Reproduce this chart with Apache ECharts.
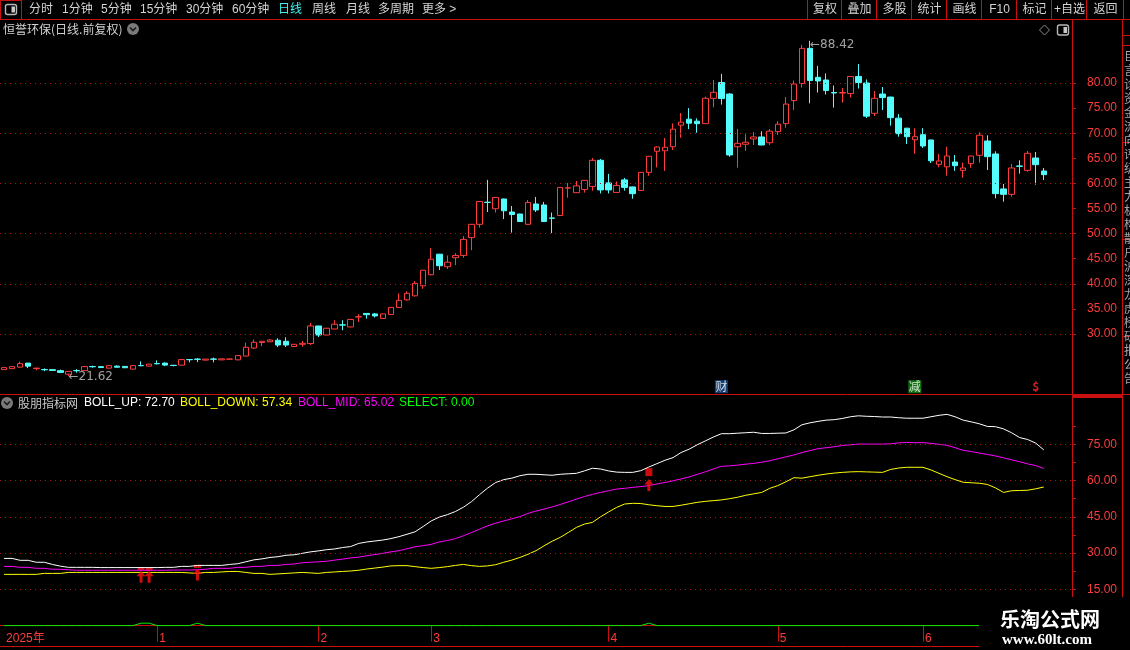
<!DOCTYPE html>
<html>
<head>
<meta charset="utf-8">
<script src="https://cdn.jsdelivr.net/npm/echarts@6/dist/echarts.min.js"></script>
<style>
html,body{margin:0;padding:0;background:#000;overflow:hidden}
#chart{width:1130px;height:650px}
</style>
</head>
<body>
<div id="chart"></div>
<script>
// ---------- DATA ----------
// [open, close, low, high]
const ohlc = [
[22.9,23.3,22.85,23.35],[23.1,23.5,23.05,23.55],[23.4,24.1,23.3,24.5],[24.2,23.6,23.2,24.25],[23.1,23.2,22.8,23.25],
[22.92,22.88,22.6,23.15],[22.9,22.75,22.7,22.95],[22.7,22.35,22.3,22.9],[22.0,22.55,21.62,22.6],[22.72,22.68,22.3,23.0],
[22.7,23.5,22.65,23.55],[23.52,23.47,23.3,23.7],[23.5,23.32,23.3,23.55],[23.2,23.7,23.15,23.75],[23.6,23.38,23.35,23.75],
[23.55,23.28,23.25,23.6],[23.0,23.7,22.95,23.75],[23.72,23.68,23.6,24.55],[23.6,24.0,23.55,24.05],[24.12,24.07,23.95,24.75],
[24.2,23.8,23.6,24.35],[23.77,23.72,23.55,23.8],[23.8,24.9,23.7,25.0],[24.92,24.87,24.35,24.95],[25.0,24.95,24.4,25.2],
[24.8,25.0,24.75,25.05],[25.02,24.97,24.35,25.3],[24.85,25.05,24.8,25.1],[24.98,25.02,24.95,25.05],[24.85,25.7,24.8,25.75],
[25.6,27.35,25.55,28.3],[27.2,28.35,27.0,28.9],[28.3,28.55,27.6,28.6],[28.45,28.8,28.4,29.0],[28.75,27.8,27.4,29.15],
[28.55,27.8,27.4,29.35],[27.5,27.95,27.45,28.0],[27.95,28.15,27.5,28.6],[28.1,31.6,27.8,32.2],[31.6,29.8,29.4,31.65],
[29.8,31.15,29.75,31.2],[31.0,31.95,30.95,32.75],[31.82,31.78,30.75,32.75],[31.4,32.9,31.35,32.95],[33.4,33.45,32.4,33.95],
[34.1,33.85,33.05,34.15],[34.0,33.6,33.3,34.2],[33.1,34.0,33.05,34.05],[33.9,35.3,33.85,35.35],[35.3,36.7,35.25,38.1],
[36.8,38.1,36.65,38.5],[37.6,40.1,37.5,40.55],[39.6,42.7,39.0,42.75],[41.8,44.9,41.7,47.1],[45.9,43.6,42.75,45.95],
[43.4,44.3,42.95,45.65],[45.2,45.65,43.7,46.1],[45.65,48.85,45.2,49.5],[49.2,51.85,46.7,51.9],[51.85,56.4,51.2,56.45],
[56.25,56.2,54.3,60.7],[54.95,57.2,54.2,57.3],[56.9,54.55,52.9,56.95],[54.3,53.8,50.2,55.5],[53.9,52.4,52.35,53.95],
[51.85,56.2,51.8,56.7],[55.9,54.7,54.3,57.3],[55.7,52.4,52.35,56.3],[53.12,53.05,50.1,54.2],[53.6,59.2,53.55,59.25],
[59.08,59.12,57.15,60.1],[58.15,59.5,58.1,60.5],[58.8,60.6,58.15,60.65],[59.4,64.6,58.55,65.05],[64.6,58.7,58.0,64.85],
[60.1,58.7,58.0,61.9],[58.2,59.6,58.15,60.4],[60.7,59.2,58.55,61.1],[59.3,57.95,56.95,59.35],[58.6,62.2,58.55,62.25],
[62.2,65.4,61.5,65.45],[66.4,67.25,63.2,67.4],[66.5,67.2,62.5,69.05],[67.3,70.8,66.65,71.96],[71.6,72.2,69.1,74.0],
[72.8,72.0,70.8,75.0],[72.4,71.9,70.1,72.95],[71.9,76.95,71.85,77.3],[76.95,78.15,75.15,80.6],[80.1,76.9,75.7,81.8],
[77.8,65.66,65.3,78.0],[67.3,67.98,63.14,70.84],[67.8,68.2,66.5,69.8],[68.85,69.25,67.65,70.24],[69.25,67.65,67.6,70.4],
[68.1,70.4,67.65,70.84],[70.3,71.8,69.65,72.4],[71.9,75.8,71.1,77.2],[76.5,79.8,74.6,80.5],[79.9,86.9,79.1,87.6],
[86.9,80.5,75.95,88.42],[81.13,80.4,78.1,83.4],[80.6,78.5,77.7,81.9],[78.1,78.0,75.1,79.5],[78.0,78.1,76.1,79.0],
[77.9,81.3,77.1,81.35],[81.3,80.1,78.9,83.8],[80.0,73.4,73.0,80.7],[73.96,76.95,73.4,78.4],[77.8,77.1,74.6,79.2],
[77.2,73.1,71.5,77.25],[73.0,69.9,69.3,73.8],[71.0,69.3,67.85,71.05],[68.7,69.3,65.9,71.0],[69.7,67.45,67.05,71.0],
[68.65,64.5,64.06,68.7],[63.8,64.47,63.2,65.86],[63.3,65.46,61.55,67.3],[64.26,63.53,62.5,65.66],[62.6,63.07,61.15,64.13],
[63.93,65.46,63.13,65.5],[65.6,69.6,64.13,70.17],[68.45,65.33,62.67,69.58],[65.86,57.96,57.03,66.4],[58.9,57.82,56.36,59.88],
[57.82,63.07,57.36,63.87],[63.47,63.4,61.94,64.6],[62.6,66.0,62.34,66.46],[65.06,63.73,59.75,66.26],[62.47,61.74,60.68,63.07]
];
const padCount = 3; // empty slots on the right of the last bar
const categories = Array.from({length: ohlc.length + padCount}, (_, i) => String(i));

const bollUp = [
27.8,27.8,27.0,27.0,26.2,26.2,25.3,24.6,24.1,24.1,24.1,24.1,24.0,24.0,24.0,24.0,24.0,24.0,24.0,24.0,
24.1,24.1,24.5,24.5,24.9,24.9,24.9,24.9,25.3,25.6,26.4,27.2,27.6,28.2,28.5,29.1,29.3,29.9,30.5,30.9,
31.4,31.7,32.3,32.7,34.0,
34.6,35.0,35.4,36.0,36.8,37.8,38.8,41.0,43.3,44.9,45.9,47.2,49.0,51.3,54.2,56.9,59.2,60.4,61.0,62.0,
62.6,62.6,62.4,62.2,62.6,62.8,63.0,64.0,65.1,64.8,64.0,63.5,63.4,63.4,64.1,65.6,67.0,68.4,69.5,71.6,
73.0,74.8,76.4,
78.0,79.4,79.4,79.6,79.8,80.0,79.5,79.5,79.6,79.7,81.0,83.1,83.9,84.5,85.0,85.2,85.7,86.4,86.8,86.6,
86.5,86.3,86.3,86.0,85.8,85.8,85.8,86.4,87.0,87.4,86.4,85.0,84.3,83.5,82.4,82.3,81.4,79.8,77.8,77.0,
75.5,72.70
];
const bollMid = [
24.5,24.5,24.1,24.1,23.7,23.7,23.3,23.3,23.1,22.9,22.9,22.9,22.9,22.9,22.9,22.9,22.9,22.9,22.9,22.9,
22.9,23.0,23.0,23.0,23.1,23.3,23.7,23.7,23.7,24.1,24.1,24.5,24.5,24.9,24.9,25.3,25.5,26.0,26.2,26.4,
26.6,27.1,27.5,28.0,28.3,
28.9,29.4,29.9,30.5,31.0,31.8,32.6,33.1,33.6,34.6,35.2,36.0,37.2,38.5,39.9,41.3,42.4,43.3,44.2,45.1,
46.4,47.4,48.2,49.1,50.1,51.2,52.3,53.4,54.3,55.1,55.8,56.5,56.8,57.2,57.5,57.9,58.6,59.2,59.9,60.7,
61.5,62.6,63.6,
64.8,65.9,66.1,66.4,66.8,67.1,67.6,68.2,69.0,69.8,70.6,71.6,72.4,73.2,73.6,74.0,74.5,74.8,75.1,75.1,
75.1,75.1,75.2,75.6,75.8,75.7,75.7,75.4,75.0,74.6,73.6,72.5,72.0,71.4,70.8,70.2,69.4,68.6,67.8,66.9,
66.2,65.02
];
const bollDown = [
21.2,21.2,21.2,21.2,21.2,21.6,21.6,21.6,22.0,22.0,22.0,22.0,22.0,22.0,22.0,22.0,22.0,22.0,22.0,22.0,
22.0,22.0,22.0,21.8,21.6,22.0,22.0,22.2,22.4,22.4,22.0,21.6,21.6,21.2,21.4,21.6,21.8,22.0,21.8,21.6,
22.0,22.2,22.4,22.6,22.9,
23.4,23.8,24.2,24.7,24.8,24.8,24.4,24.0,23.7,24.0,24.4,24.9,25.3,24.8,24.5,24.7,25.2,26.2,27.1,28.2,
29.5,31.0,33.0,34.9,36.5,38.5,40.6,42.0,42.7,45.0,47.0,48.9,50.3,50.6,50.5,50.0,49.6,49.3,49.3,49.8,
50.4,51.0,51.4,
51.7,52.0,52.5,53.1,53.9,54.5,55.1,56.8,57.9,59.5,61.2,61.0,61.6,62.2,62.7,63.1,63.4,63.6,63.7,63.6,
63.5,63.4,64.6,65.2,65.5,65.5,65.5,64.4,63.0,61.6,60.4,59.3,59.1,58.9,58.4,57.0,55.1,55.8,55.9,56.0,
56.6,57.34
];
const selectSignal = [
0,0,0,0,0,0,0,0,0,0,0,0,0,0,0,0,0,1,1,0,0,0,0,0,1,0,0,0,0,0,
0,0,0,0,0,0,0,0,0,0,0,0,0,0,0,0,0,0,0,0,0,0,0,0,0,0,0,0,0,0,
0,0,0,0,0,0,0,0,0,0,0,0,0,0,0,0,0,0,0,0,1,0,0,0,0,0,0,0,0,0,
0,0,0,0,0,0,0,0,0,0,0,0,0,0,0,0,0,0,0,0,0,0,0,0,0,0,0,0,0,0,
0,0,0,0,0,0,0,0,0,0
];
const arrowIdx = [17, 18, 24, 80];
const arrowValue = [20.2, 20.2, 21.1, 58.2];
const flagIdx = [17, 18, 24, 80];
const flagValue = [23.6, 23.4, 24.5, 63.5];
const extremeIdx = [8, 100];
const extremeValue = [21.62, 88.42];
const eventIdx = [89, 113, 128];
const eventText = ['财', '减', '$'];
const eventValue = 19.5;
const priceTicks = [30, 35, 40, 45, 50, 55, 60, 65, 70, 75, 80];
const priceGridLines = [30, 40, 50, 60, 70, 80];
const indTicks = [15, 30, 45, 60, 75];
const indMinorTicks = [15, 22.5, 30, 37.5, 45, 52.5, 60, 67.5, 75, 82.5];
const monthTickIdx = [19, 39, 53, 75, 96, 114];
const monthTickText = ['1', '2', '3', '4', '5', '6'];
const yearLabel = '2025年';
const menuItems = ['分时', '1分钟', '5分钟', '15分钟', '30分钟', '60分钟', '日线', '周线', '月线', '多周期', '更多 >'];
const rightButtons = ['复权', '叠加', '多股', '统计', '画线', 'F10', '标记', '+自选', '返回'];
const stockTitle = '恒誉环保(日线.前复权)';
const indicatorName = '股朋指标网';

// ---------- STYLE ----------
const RED = '#c81010';
const AXIS_RED = '#ff3c3c';
const UP_RED = '#ff3c3c';
const CYAN = '#54fcfc';
const GRID_RED = '#a81818';
const LATIN = '"Liberation Sans","Noto Sans CJK SC",sans-serif';
const CJK = '"Noto Sans CJK SC","Liberation Sans",sans-serif';

const chart = echarts.init(document.getElementById('chart'), null, {renderer: 'canvas'});

function T(text, x, y, fill, font, align) {
  return {type: 'text', x: x, y: y, silent: true, z: 50,
    style: {text: text, fill: fill, font: font, textAlign: align || 'left', textVerticalAlign: 'middle'}};
}
function L(x1, y1, x2, y2, stroke, w) {
  return {type: 'line', silent: true, z: 50, shape: {x1: x1, y1: y1, x2: x2, y2: y2},
    style: {stroke: stroke, lineWidth: w || 1}};
}
function circleIcon(cx, cy) {
  return [
    {type: 'circle', silent: true, z: 50, shape: {cx: cx, cy: cy, r: 6}, style: {fill: '#7a7a7a'}},
    {type: 'polyline', silent: true, z: 51, shape: {points: [[cx - 3, cy - 1.5], [cx, cy + 1.5], [cx + 3, cy - 1.5]]},
      style: {stroke: '#1a1a1a', lineWidth: 1.6, fill: null}}
  ];
}
function toggleIcon(x, y) {
  return [
    {type: 'rect', silent: true, z: 50, shape: {x: x + 0.5, y: y + 0.5, width: 11, height: 10, r: 2},
      style: {stroke: '#b8b8b8', lineWidth: 1.4, fill: null}},
    {type: 'rect', silent: true, z: 50, shape: {x: x + 6.5, y: y + 2.5, width: 3.5, height: 6}, style: {fill: '#c8c8c8'}}
  ];
}

const g = [];
// toolbar
g.push(L(0, 19.5, 1130, 19.5, RED));
g.push({type: 'rect', silent: true, z: 50, shape: {x: 0.5, y: 0.5, width: 21, height: 19}, style: {stroke: RED, fill: null}});
g.push(...toggleIcon(5, 4));
const menuX = [29, 62, 101, 140, 186, 232, 278, 312, 346, 378, 422];
menuItems.forEach((m, i) => g.push(T(m, menuX[i], 10, m === '日线' ? '#3ef2f2' : '#d4d4d4', '12px ' + LATIN)));
const sepX = [807, 841, 876, 911, 946, 981, 1016, 1051, 1086, 1123];
sepX.forEach(x => g.push(L(x + 0.5, 0, x + 0.5, 19.5, RED)));
rightButtons.forEach((b, i) => g.push(T(b, (sepX[i] + sepX[i + 1]) / 2 + 1, 10, '#d4d4d4', '12px ' + LATIN, 'center')));
// title row
g.push(T(stockTitle, 3, 29, '#d0d0d0', '12px ' + CJK));
g.push(...circleIcon(133, 29));
g.push({type: 'polygon', silent: true, z: 50, shape: {points: [[1044.5, 25], [1049.5, 30], [1044.5, 35], [1039.5, 30]]},
  style: {stroke: '#8c8c8c', fill: null, lineWidth: 1}});
g.push(...toggleIcon(1057, 24.5));
// frame lines
g.push(L(1072.5, 20, 1072.5, 597, RED));
g.push(L(1122.5, 20, 1122.5, 597, RED));
[35, 45, 142, 239, 336].forEach(y => g.push(L(1122, y + 0.5, 1130, y + 0.5, RED)));
const stripChars = ['巨', '言', '诊', '资', '金', '流', '向', '评', '级', '主', '力', '机', '构', '散', '户', '沪', '深', '龙', '虎', '榜', '研', '报', '公', '告'];
stripChars.forEach((c, i) => g.push(T(c, 1124, 56 + i * 14, '#a8a8a8', '12px ' + CJK)));
g.push(L(0, 394.5, 1130, 394.5, RED));
g.push({type: 'rect', silent: true, z: 50, shape: {x: 1072, y: 395, width: 50, height: 3}, style: {fill: RED}});
// indicator title
g.push(...circleIcon(7, 403));
g.push(T(indicatorName, 18, 403, '#c8c8c8', '12px ' + CJK));
g.push(T('BOLL_UP: ' + bollUp[bollUp.length - 1].toFixed(2), 84, 403, '#ffffff', '12px ' + LATIN));
g.push(T('BOLL_DOWN: ' + bollDown[bollDown.length - 1].toFixed(2), 180, 403, '#ffff00', '12px ' + LATIN));
g.push(T('BOLL_MID: ' + bollMid[bollMid.length - 1].toFixed(2), 298, 403, '#ff00ff', '12px ' + LATIN));
g.push(T('SELECT: ' + selectSignal[selectSignal.length - 1].toFixed(2), 399, 403, '#00ff00', '12px ' + LATIN));
// bottom strip
g.push(L(0, 646.5, 1130, 646.5, RED));
// watermark
g.push({type: 'rect', silent: true, z: 100, shape: {x: 979, y: 597, width: 151, height: 53}, style: {fill: '#000'}});
g.push(Object.assign(T('乐淘公式网', 1050, 619, '#ffffff', 'bold 20px ' + CJK, 'center'), {z: 101}));
g.push(Object.assign(T('www.60lt.com', 1047, 640, '#ffffff', 'bold 15px "Liberation Serif",serif', 'center'), {z: 101}));

const dotted = {type: [1, 4], color: GRID_RED, width: 1};

const option = {
  backgroundColor: '#000',
  animation: false,
  grid: [
    {left: 0, right: 58, top: 32.8, height: 351.4, containLabel: false, outerBoundsMode: 'none'},
    {left: 0, right: 58, top: 408.07, height: 217.53, containLabel: false, outerBoundsMode: 'none'}
  ],
  xAxis: [
    {type: 'category', gridIndex: 0, data: categories, boundaryGap: true, show: false},
    {type: 'category', gridIndex: 1, data: categories, boundaryGap: true, offset: 4.4,
      axisLine: {show: true, lineStyle: {color: RED, width: 1}},
      axisTick: {show: true, alignWithLabel: true, length: 16, inside: false,
        interval: (i) => monthTickIdx.indexOf(i) >= 0, lineStyle: {color: RED}},
      axisLabel: {show: true, color: AXIS_RED, fontSize: 12, fontFamily: LATIN, align: 'left', margin: 3,
        padding: [0, 0, 0, 2],
        interval: (i) => i === 0 || monthTickIdx.indexOf(i) >= 0,
        formatter: (v, i) => (Number(v) === 0 ? yearLabel : monthTickText[monthTickIdx.indexOf(Number(v))] || '')},
      splitLine: {show: false}}
  ],
  yAxis: [
    {type: 'value', gridIndex: 0, position: 'right', min: 20, max: 90, interval: 5, scale: false,
      axisLine: {show: false},
      axisTick: {show: true, inside: false, length: 4, customValues: priceTicks, lineStyle: {color: RED}},
      axisLabel: {show: true, customValues: priceTicks, margin: 15, color: AXIS_RED, fontSize: 12, fontFamily: LATIN,
        formatter: (v) => (v >= 30 && v <= 80 ? Number(v).toFixed(2) : '')},
      splitLine: {show: false}},
    {type: 'value', gridIndex: 1, position: 'right', min: 0, max: 90, interval: 15,
      axisLine: {show: false},
      axisTick: {show: true, inside: false, length: 4, customValues: indMinorTicks, lineStyle: {color: RED}},
      axisLabel: {show: true, customValues: indTicks, margin: 15, color: AXIS_RED, fontSize: 12, fontFamily: LATIN,
        formatter: (v) => (v >= 15 && v <= 75 ? Number(v).toFixed(2) : '')},
      splitLine: {show: false}}
  ],
  series: [
    {
      name: 'K', type: 'candlestick', xAxisIndex: 0, yAxisIndex: 0, data: ohlc, barWidth: 6,
      itemStyle: {color: '#000', color0: CYAN, borderColor: UP_RED, borderColor0: CYAN, borderWidth: 1},
      emphasis: {disabled: true},
      markLine: {silent: true, symbol: ['none', 'none'], label: {show: false}, lineStyle: dotted,
        emphasis: {disabled: true}, data: priceGridLines.map(v => ({yAxis: v}))}
    },
    {
      name: 'extremes', type: 'scatter', xAxisIndex: 0, yAxisIndex: 0, symbolSize: 0, clip: false, silent: true, z: 5,
      data: extremeIdx.map((k, i) => [k, extremeValue[i]]),
      label: {show: true, position: 'right', distance: 0, color: '#c8c8c8', fontSize: 12, fontFamily: '"DejaVu Sans","Liberation Sans",sans-serif',
        formatter: (p) => '←' + p.value[1].toFixed(2)},
      labelLayout: (p) => (p.dataIndex === 1 ? {dy: 4} : {dy: 1})
    },
    {
      name: 'events', type: 'scatter', xAxisIndex: 0, yAxisIndex: 0, clip: false, silent: true, z: 5,
      data: eventIdx.map((k, i) => ({
        value: [k, eventValue],
        symbol: 'rect',
        symbolSize: eventText[i] === '$' ? 0 : [13, 13],
        itemStyle: {color: eventText[i] === '财' ? '#1a4f8f' : '#138a13'},
        label: {show: true, position: 'inside', formatter: eventText[i],
          color: eventText[i] === '$' ? '#ff2a2a' : '#ffffff', fontWeight: eventText[i] === '$' ? 'bold' : 'normal',
          fontSize: 12, fontFamily: CJK}
      }))
    },
    {
      name: 'flags', type: 'scatter', xAxisIndex: 1, yAxisIndex: 1, silent: true, z: 1, symbol: 'rect',
      data: flagIdx.map((k, i) => ({value: [k, flagValue[i]], symbolSize: k === 80 ? [7, 8] : [7, 3]})),
      itemStyle: {color: '#ff1010'}
    },
    {
      name: 'BOLL_UP', type: 'line', xAxisIndex: 1, yAxisIndex: 1, data: bollUp, symbol: 'none', z: 3,
      lineStyle: {color: '#ffffff', width: 1}, emphasis: {disabled: true},
      markLine: {silent: true, symbol: ['none', 'none'], label: {show: false}, lineStyle: dotted,
        emphasis: {disabled: true}, data: indTicks.map(v => ({yAxis: v}))}
    },
    {name: 'BOLL_DOWN', type: 'line', xAxisIndex: 1, yAxisIndex: 1, data: bollDown, symbol: 'none', z: 3,
      lineStyle: {color: '#ffff00', width: 1}, emphasis: {disabled: true}},
    {name: 'BOLL_MID', type: 'line', xAxisIndex: 1, yAxisIndex: 1, data: bollMid, symbol: 'none', z: 3,
      lineStyle: {color: '#ff00ff', width: 1}, emphasis: {disabled: true}},
    {name: 'SELECT', type: 'line', xAxisIndex: 1, yAxisIndex: 1, data: selectSignal, symbol: 'none', z: 3, clip: false,
      lineStyle: {color: '#00ee00', width: 1}, emphasis: {disabled: true}},
    {
      name: 'arrows', type: 'scatter', xAxisIndex: 1, yAxisIndex: 1, silent: true, z: 6,
      symbol: 'path://M4.5,0 L9,5.5 L6,5.5 L6,12 L3,12 L3,5.5 L0,5.5 Z', symbolSize: [9, 12],
      data: arrowIdx.map((k, i) => [k, arrowValue[i]]),
      itemStyle: {color: '#ff1010'}
    }
  ],
  graphic: {elements: g}
};
chart.setOption(option);
</script>
</body>
</html>
